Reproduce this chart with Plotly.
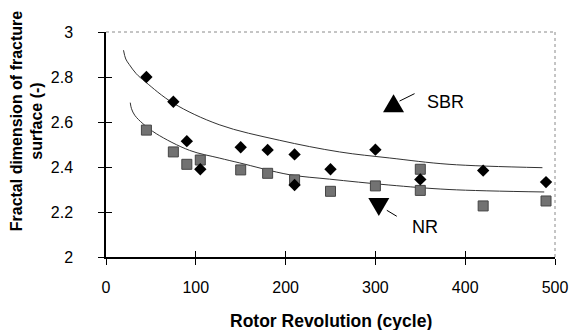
import plotly.graph_objects as go

# ---- data ----
rev_sbr = [45, 75, 90, 105, 150, 180, 210, 210, 250, 300, 350, 420, 490]
fd_sbr = [2.80, 2.69, 2.515, 2.39, 2.488, 2.476, 2.456, 2.32, 2.39, 2.477, 2.345, 2.384, 2.333]

rev_nr = [45, 75, 90, 105, 150, 180, 210, 250, 300, 350, 350, 420, 490]
fd_nr = [2.564, 2.467, 2.412, 2.431, 2.387, 2.372, 2.343, 2.292, 2.316, 2.39, 2.296, 2.227, 2.249]

fit_sbr_x = [19.5, 22, 26, 33.6, 44, 74.8, 126, 193, 260, 316, 382, 486]
fit_sbr_y = [2.919, 2.88, 2.855, 2.815, 2.778, 2.684, 2.588, 2.519, 2.467, 2.44, 2.412, 2.397]

fit_nr_x = [27, 28.4, 32, 41, 56, 93, 126, 149, 204, 249, 315, 382, 488]
fit_nr_y = [2.686, 2.659, 2.63, 2.593, 2.548, 2.474, 2.44, 2.418, 2.366, 2.346, 2.32, 2.30, 2.289]

x_ticks = [0, 100, 200, 300, 400, 500]
y_ticks = [2, 2.2, 2.4, 2.6, 2.8, 3]
y_tick_text = ["2", "2.2", "2.4", "2.6", "2.8", "3"]

FONT = "Arial, Liberation Sans, Helvetica, sans-serif"

fig = go.Figure()
fig.add_trace(go.Scatter(x=fit_sbr_x, y=fit_sbr_y, mode="lines",
                         line=dict(color="#333333", width=1, shape="spline", smoothing=1.0),
                         hoverinfo="skip", showlegend=False))
fig.add_trace(go.Scatter(x=fit_nr_x, y=fit_nr_y, mode="lines",
                         line=dict(color="#333333", width=1, shape="spline", smoothing=1.0),
                         hoverinfo="skip", showlegend=False))
fig.add_trace(go.Scatter(x=rev_nr, y=fd_nr, mode="markers", name="NR",
                         marker=dict(symbol="square", size=10, color="#727272",
                                     line=dict(color="#454545", width=1)),
                         showlegend=False))
fig.add_trace(go.Scatter(x=rev_sbr, y=fd_sbr, mode="markers", name="SBR",
                         marker=dict(symbol="diamond", size=9.5, color="black",
                                     line=dict(color="black", width=0)),
                         showlegend=False))

# invisible trace to activate the overlay axes used for crossing ticks
fig.add_trace(go.Scatter(x=[None], y=[None], xaxis="x2", yaxis="y2", showlegend=False))

axis_common = dict(showgrid=False, zeroline=False, ticklen=6, tickwidth=1,
                   tickcolor="black", automargin=False)
fig.update_layout(
    width=572, height=330,
    margin=dict(l=106, r=17, t=32, b=73),
    paper_bgcolor="white", plot_bgcolor="white",
    font=dict(family=FONT, size=16, color="black"),
    xaxis=dict(range=[0, 500], tickvals=x_ticks, ticks="outside", showline=True,
               linecolor="black", linewidth=1.5, ticklabelstandoff=9,
               tickfont=dict(size=16), **axis_common),
    yaxis=dict(range=[2, 3], tickvals=y_ticks, ticktext=y_tick_text, ticks="outside",
               showline=True, linecolor="black", linewidth=1.5, ticklabelstandoff=22,
               tickfont=dict(size=16), **axis_common),
    xaxis2=dict(range=[0, 500], tickvals=x_ticks, ticks="inside", showticklabels=False,
                overlaying="x", matches="x", showline=False, **axis_common),
    yaxis2=dict(range=[2, 3], tickvals=y_ticks, ticks="inside", showticklabels=False,
                overlaying="y", matches="y", showline=False, **axis_common),
)

# dotted grey top and right frame
fig.add_shape(type="line", xref="paper", yref="paper", x0=0, x1=1, y0=1, y1=1,
              line=dict(color="#8a8a8a", width=1, dash="dot"))
fig.add_shape(type="line", xref="paper", yref="paper", x0=1, x1=1, y0=0, y1=1,
              line=dict(color="#8a8a8a", width=1, dash="dot"))

# axis titles
fig.add_annotation(text="<b>Rotor Revolution (cycle)</b>", xref="paper", yref="paper",
                   x=0.5, y=-0.284, xanchor="center", yanchor="middle", showarrow=False,
                   font=dict(size=17.5, family=FONT))
fig.add_annotation(text="<b>Fractal dimension of fracture<br>surface (-)</b>", xref="paper",
                   yref="paper", x=-0.176, y=0.6076, xanchor="center", yanchor="middle",
                   textangle=-90, showarrow=False, font=dict(size=16, family=FONT))

# in-plot key: triangles, pointer lines and labels
def tri(cx, cy, up=True):
    if up:
        path = "M -10.5 -9 L 0 9 L 10.5 -9 Z"
    else:
        path = "M -10.5 9 L 0 -9 L 10.5 9 Z"
    fig.add_shape(type="path", xref="x", yref="y", xsizemode="pixel", ysizemode="pixel",
                  xanchor=cx, yanchor=cy, path=path, fillcolor="black",
                  line=dict(color="black", width=0))

tri(320.2, 2.683, up=True)
tri(303.8, 2.222, up=False)
fig.add_shape(type="line", xref="x", yref="y", x0=326.9, y0=2.693, x1=343.6, y1=2.726,
              line=dict(color="black", width=1))
fig.add_shape(type="line", xref="x", yref="y", x0=312.7, y0=2.2076, x1=323.8, y1=2.181,
              line=dict(color="black", width=1))
fig.add_annotation(text="SBR", x=378, y=2.689, xref="x", yref="y", showarrow=False,
                   xanchor="center", yanchor="middle", font=dict(size=18, family=FONT))
fig.add_annotation(text="NR", x=354.8, y=2.133, xref="x", yref="y", showarrow=False,
                   xanchor="center", yanchor="middle", font=dict(size=18, family=FONT))

fig.write_html("out.html")
